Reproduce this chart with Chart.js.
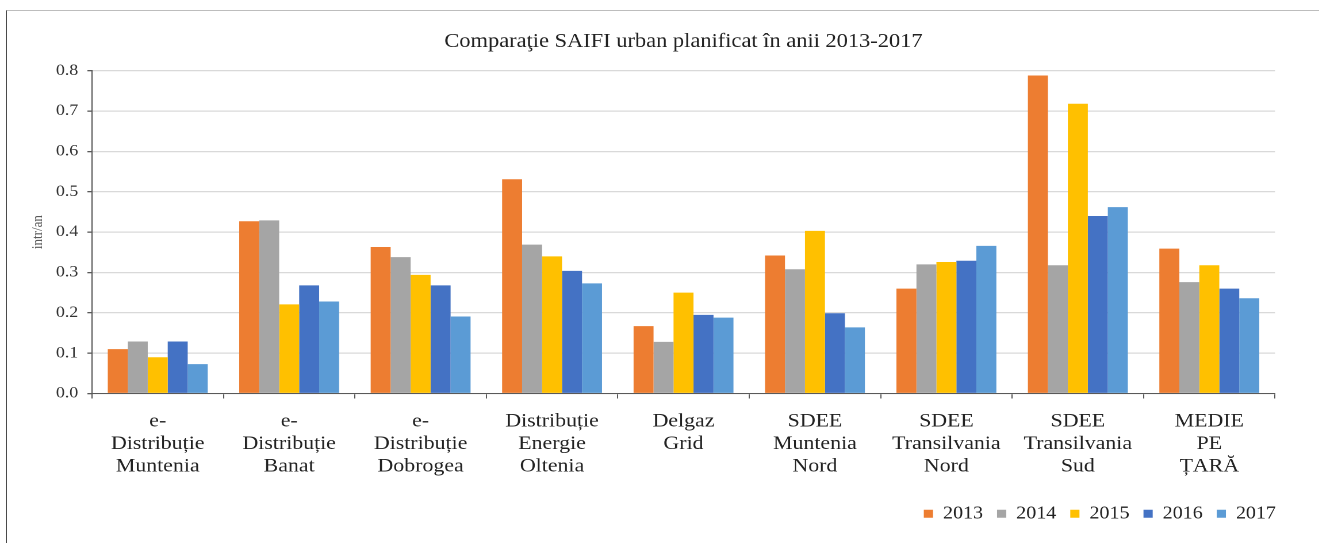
<!DOCTYPE html>
<html>
<head>
<meta charset="utf-8">
<script src="https://cdn.jsdelivr.net/npm/chart.js@4/dist/chart.umd.min.js"></script>
<style>
    html, body { margin: 0; padding: 0; background: #fff; overflow: hidden; }
    body { width: 1319px; height: 543px; position: relative; }
    #frame {
        position: absolute; left: 6px; top: 10px; width: 1400px; height: 600px;
        border-left: 1.5px solid #4a4a4a; border-top: 1px solid #bdbdbd;
    }
    #wrap {
        position: absolute; left: 0; top: 0; width: 1147px; height: 543px;
        transform: scaleX(1.15); transform-origin: 0 0;
    }
</style>
</head>
<body>
<div id="frame"></div>
<div id="wrap"><canvas id="saifiGraph"></canvas></div>
<script>
// Chart data
const categories = [
    ["e-", "Distribuție", "Muntenia"],
    ["e-", "Distribuție", "Banat"],
    ["e-", "Distribuție", "Dobrogea"],
    ["Distribuție", "Energie", "Oltenia"],
    ["Delgaz", "Grid"],
    ["SDEE", "Muntenia", "Nord"],
    ["SDEE", "Transilvania", "Nord"],
    ["SDEE", "Transilvania", "Sud"],
    ["MEDIE", "PE", "ȚARĂ"],
];
const years = ["2013", "2014", "2015", "2016", "2017"];
const values2013 = [0.110, 0.427, 0.363, 0.531, 0.167, 0.342, 0.260, 0.788, 0.359];
const values2014 = [0.129, 0.429, 0.338, 0.369, 0.128, 0.308, 0.320, 0.318, 0.276];
const values2015 = [0.090, 0.221, 0.294, 0.340, 0.250, 0.403, 0.326, 0.718, 0.318];
const values2016 = [0.129, 0.268, 0.268, 0.304, 0.195, 0.199, 0.329, 0.440, 0.260];
const values2017 = [0.073, 0.228, 0.191, 0.273, 0.188, 0.164, 0.366, 0.462, 0.236];
const yTicks = [0.0, 0.1, 0.2, 0.3, 0.4, 0.5, 0.6, 0.7, 0.8];

const colors = ["#ED7D31", "#A5A5A5", "#FFC000", "#4472C4", "#5B9BD5"];
const serif = "'Liberation Serif', 'Times New Roman', serif";

document.addEventListener('DOMContentLoaded', function() {

    const series = [values2013, values2014, values2015, values2016, values2017];

    const ctx = document.getElementById("saifiGraph").getContext("2d");

    // Create graph
    new Chart(ctx, {
        type: "bar",
        data: {
            labels: categories,
            datasets: series.map((vals, i) => ({
                label: years[i],
                data: vals,
                backgroundColor: colors[i],
                borderWidth: 0,
                barPercentage: 1.0,
                categoryPercentage: 0.76,
            })),
        },
        options: {
            responsive: true,
            maintainAspectRatio: false,
            animation: false,
            devicePixelRatio: 2,
            layout: {
                padding: { left: 6, right: 25.3, top: 30, bottom: 10.6 },
            },
            plugins: {
                tooltip: { enabled: false },
                title: {
                    display: true,
                    fullSize: false,
                    text: "Comparaţie SAIFI urban planificat în anii 2013-2017",
                    color: "#222",
                    font: { family: serif, size: 19.5, weight: "normal", lineHeight: 1.2 },
                    padding: { top: 0, bottom: 17.3 },
                },
                legend: {
                    position: "bottom",
                    align: "end",
                    labels: {
                        color: "#222",
                        boxWidth: 8,
                        boxHeight: 8,
                        padding: 12.2,
                        font: { family: serif, size: 17.4 },
                    },
                },
            },
            scales: {
                x: {
                    grid: {
                        offset: true,
                        drawOnChartArea: false,
                        drawTicks: true,
                        tickLength: 5,
                        tickColor: "#595959",
                    },
                    border: { color: "#595959", width: 1 },
                    ticks: {
                        color: "#222",
                        padding: 12,
                        maxRotation: 0,
                        autoSkip: false,
                        font: { family: serif, size: 19, lineHeight: 1.18 },
                    },
                    afterFit: (scale) => { scale.height = scale.height + 3; },
                },
                y: {
                    min: 0,
                    max: 0.8,
                    afterBuildTicks: (scale) => {
                        scale.ticks = yTicks.map((v) => ({ value: v }));
                    },
                    afterFit: (scale) => { scale.width = 74; },
                    grid: {
                        color: "#d9d9d9",
                        lineWidth: 1.3,
                        tickLength: 4,
                        tickColor: "#595959",
                    },
                    border: { color: "#595959", width: 1 },
                    ticks: {
                        color: "#333",
                        padding: 8,
                        font: { family: serif, size: 15.5 },
                        callback: (value) => Number(value).toFixed(1),
                    },
                    title: {
                        display: true,
                        text: "intr/an",
                        color: "#595959",
                        font: { family: serif, size: 13 },
                        padding: { top: 19.2, bottom: 0 },
                    },
                },
                // Empty spacer on the right so the legend can sit past the plot edge
                spacer: {
                    type: "linear",
                    position: "right",
                    display: true,
                    grid: { drawOnChartArea: false, drawTicks: false },
                    border: { display: false },
                    ticks: { display: false },
                    afterFit: (scale) => { scale.width = 13; },
                },
            },
        },
    });
});
</script>
</body>
</html>
